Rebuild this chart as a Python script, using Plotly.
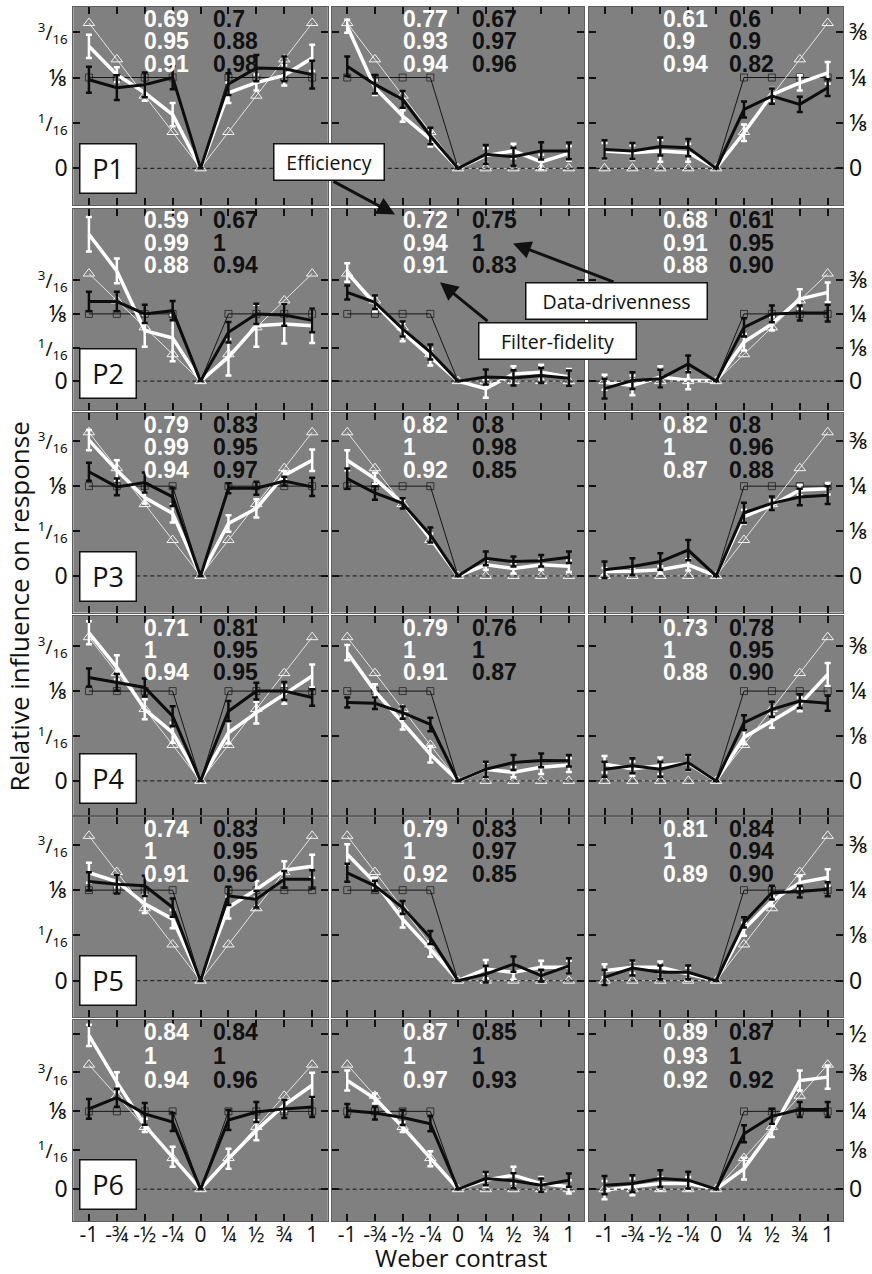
import plotly.graph_objects as go
from plotly.subplots import make_subplots

# ---------------------------------------------------------------- data
contrast = [-1, -0.75, -0.5, -0.25, 0, 0.25, 0.5, 0.75, 1]
contrast_ticktext = ["-1", "-¾", "-½", "-¼", "0", "¼", "½", "¾", "1"]
participants = ["P1", "P2", "P3", "P4", "P5", "P6"]
conditions = ["sym", "neg", "pos"]

# ideal (box) filters, drawn with open squares
ideal_sym = [0.125, 0.125, 0.125, 0.125, 0, 0.125, 0.125, 0.125, 0.125]
ideal_neg = [0.25, 0.25, 0.25, 0.25, 0, 0, 0, 0, 0]
ideal_pos = [0, 0, 0, 0, 0, 0.25, 0.25, 0.25, 0.25]

# graded (contrast-proportional) filters, drawn with open triangles
graded_sym = [0.2, 0.15, 0.1, 0.05, 0, 0.05, 0.1, 0.15, 0.2]
graded_neg = [0.4, 0.3, 0.2, 0.1, 0, 0, 0, 0, 0]
graded_pos = [0, 0, 0, 0, 0, 0.1, 0.2, 0.3, 0.4]

# thick black curves (one row per participant)
black_sym_mean = [
    [0.122, 0.111, 0.115, 0.125, 0, 0.116, 0.138, 0.137, 0.129],
    [0.148, 0.148, 0.125, 0.131, 0, 0.091, 0.125, 0.123, 0.113],
    [0.145, 0.124, 0.130, 0.110, 0, 0.122, 0.122, 0.132, 0.124],
    [0.144, 0.137, 0.130, 0.090, 0, 0.097, 0.125, 0.125, 0.116],
    [0.137, 0.133, 0.131, 0.101, 0, 0.117, 0.1125, 0.140, 0.140],
    [0.129, 0.147, 0.121, 0.108, 0, 0.111, 0.124, 0.129, 0.132],
]
black_sym_err = [
    [0.018, 0.017, 0.017, 0.016, 0, 0.015, 0.018, 0.017, 0.019],
    [0.018, 0.018, 0.017, 0.018, 0, 0.019, 0.019, 0.020, 0.022],
    [0.0125, 0.0116, 0.014, 0.0127, 0, 0.007, 0.009, 0.006, 0.0127],
    [0.0125, 0.0116, 0.0125, 0.014, 0, 0.014, 0.0116, 0.0125, 0.0116],
    [0.0126, 0.0126, 0.014, 0.0126, 0, 0.0126, 0.0116, 0.0116, 0.0126],
    [0.016, 0.0145, 0.0175, 0.0145, 0, 0.016, 0.016, 0.0145, 0.016],
]
black_neg_mean = [
    [0.281, 0.231, 0.190, 0.089, 0, 0.0385, 0.032, 0.048, 0.048],
    [0.330, 0.293, 0.194, 0.108, 0, 0.015, 0.012, 0.021, 0.011],
    [0.271, 0.231, 0.202, 0.114, 0, 0.049, 0.040, 0.042, 0.052],
    [0.218, 0.216, 0.190, 0.157, 0, 0.0325, 0.051, 0.057, 0.056],
    [0.298, 0.262, 0.202, 0.119, 0, 0.018, 0.046, 0.014, 0.041],
    [0.253, 0.245, 0.230, 0.210, 0, 0.034, 0.027, 0.013, 0.029],
]
black_neg_err = [
    [0.027, 0.025, 0.023, 0.023, 0, 0.026, 0.025, 0.024, 0.023],
    [0.026, 0.025, 0.028, 0.028, 0, 0.028, 0.028, 0.028, 0.028],
    [0.028, 0.019, 0.014, 0.021, 0, 0.019, 0.014, 0.016, 0.016],
    [0.014, 0.016, 0.017, 0.019, 0, 0.021, 0.021, 0.019, 0.016],
    [0.025, 0.014, 0.018, 0.018, 0, 0.023, 0.021, 0.016, 0.021],
    [0.021, 0.021, 0.024, 0.024, 0, 0.021, 0.024, 0.021, 0.021],
]
black_pos_mean = [
    [0.052, 0.048, 0.060, 0.057, 0, 0.162, 0.199, 0.176, 0.222],
    [-0.028, 0.002, 0.009, 0.064, 0, 0.200, 0.250, 0.253, 0.253],
    [0.017, 0.026, 0.040, 0.072, 0, 0.176, 0.202, 0.220, 0.225],
    [0.0325, 0.042, 0.0325, 0.051, 0, 0.162, 0.199, 0.222, 0.216],
    [0.009, 0.035, 0.023, 0.023, 0, 0.161, 0.243, 0.246, 0.2525],
    [0.013, 0.018, 0.034, 0.029, 0, 0.178, 0.234, 0.256, 0.256],
]
black_pos_err = [
    [0.025, 0.022, 0.025, 0.024, 0, 0.022, 0.021, 0.021, 0.023],
    [0.037, 0.031, 0.033, 0.031, 0, 0.034, 0.031, 0.028, 0.031],
    [0.023, 0.023, 0.023, 0.028, 0, 0.028, 0.019, 0.023, 0.025],
    [0.021, 0.021, 0.021, 0.021, 0, 0.021, 0.021, 0.019, 0.021],
    [0.021, 0.021, 0.019, 0.019, 0, 0.014, 0.019, 0.016, 0.019],
    [0.029, 0.027, 0.027, 0.027, 0, 0.027, 0.024, 0.024, 0.024],
]

# thick white curves (one row per participant)
white_sym_mean = [
    [0.168, 0.129, 0.104, 0.074, 0, 0.104, 0.118, 0.128, 0.152],
    [0.273, 0.205, 0.094, 0.080, 0, 0.0445, 0.103, 0.106, 0.103],
    [0.189, 0.147, 0.109, 0.087, 0, 0.073, 0.094, 0.140, 0.161],
    [0.206, 0.158, 0.0996, 0.067, 0, 0.067, 0.095, 0.120, 0.146],
    [0.149, 0.137, 0.106, 0.085, 0, 0.101, 0.126, 0.1525, 0.158],
    [0.247, 0.172, 0.1026, 0.052, 0, 0.049, 0.0946, 0.135, 0.167],
]
white_sym_err = [
    [0.016, 0.010, 0.011, 0.016, 0, 0.014, 0.011, 0.014, 0.018],
    [0.032, 0.023, 0.030, 0.043, 0, 0.034, 0.039, 0.036, 0.032],
    [0.014, 0.014, 0.008, 0.0127, 0, 0.0116, 0.0127, 0.006, 0.015],
    [0.016, 0.017, 0.014, 0.014, 0, 0.015, 0.015, 0.0125, 0.016],
    [0.0138, 0.008, 0.0125, 0.0125, 0, 0.015, 0.0115, 0.0125, 0.016],
    [0.017, 0.016, 0.0107, 0.016, 0, 0.016, 0.016, 0.009, 0.02],
]
white_neg_mean = [
    [0.391, 0.222, 0.144, 0.080, 0, 0.035, 0.048, 0.0176, 0.041],
    [0.404, 0.287, 0.182, 0.089, 0, -0.028, 0.027, 0.033, 0.015],
    [0.322, 0.271, 0.202, 0.104, 0, 0.031, 0.021, 0.031, 0.027],
    [0.357, 0.250, 0.162, 0.074, 0, 0.0325, 0.024, 0.038, 0.044],
    [0.349, 0.271, 0.170, 0.087, 0, 0.032, 0.023, 0.037, 0.037],
    [0.349, 0.291, 0.200, 0.098, 0, 0.029, 0.045, 0.018, 0.0075],
]
white_neg_err = [
    [0.018, 0.020, 0.016, 0.020, 0, 0.02, 0.02, 0.02, 0.02],
    [0.034, 0.028, 0.034, 0.031, 0, 0.034, 0.028, 0.028, 0.03],
    [0.028, 0.016, 0.01, 0.014, 0, 0.014, 0.014, 0.014, 0.016],
    [0.021, 0.019, 0.019, 0.023, 0, 0.019, 0.014, 0.019, 0.019],
    [0.0275, 0.014, 0.023, 0.021, 0, 0.025, 0.021, 0.018, 0.018],
    [0.032, 0.016, 0.016, 0.024, 0, 0.021, 0.027, 0.021, 0.021],
]
white_pos_mean = [
    [0.048, 0.043, 0.048, 0.043, 0, 0.098, 0.203, 0.235, 0.263],
    [-0.004, -0.016, 0.015, 0.003, 0, 0.145, 0.213, 0.305, 0.330],
    [0.012, 0.013, 0.017, 0.031, 0, 0.165, 0.197, 0.239, 0.243],
    [0.046, 0.034, 0.042, 0.049, 0, 0.121, 0.167, 0.213, 0.296],
    [0.0275, 0.037, 0.037, 0.018, 0, 0.142, 0.220, 0.271, 0.285],
    [-0.003, 0.0075, 0.018, 0.018, 0, 0.066, 0.189, 0.349, 0.360],
]
white_pos_err = [
    [0.022, 0.02, 0.03, 0.025, 0, 0.023, 0.018, 0.021, 0.03],
    [0.028, 0.037, 0.04, 0.033, 0, 0.031, 0.025, 0.037, 0.037],
    [0.01, 0.01, 0.01, 0.016, 0, 0.019, 0.014, 0.014, 0.016],
    [0.023, 0.02, 0.023, 0.02, 0, 0.019, 0.019, 0.019, 0.032],
    [0.018, 0.016, 0.016, 0.018, 0, 0.018, 0.014, 0.018, 0.023],
    [0.029, 0.027, 0.021, 0.021, 0, 0.035, 0.021, 0.032, 0.037],
]

# efficiency / data-drivenness / filter-fidelity per panel
white_stats_sym = [["0.69", "0.95", "0.91"], ["0.59", "0.99", "0.88"], ["0.79", "0.99", "0.94"],
                   ["0.71", "1", "0.94"], ["0.74", "1", "0.91"], ["0.84", "1", "0.94"]]
black_stats_sym = [["0.7", "0.88", "0.98"], ["0.67", "1", "0.94"], ["0.83", "0.95", "0.97"],
                   ["0.81", "0.95", "0.95"], ["0.83", "0.95", "0.96"], ["0.84", "1", "0.96"]]
white_stats_neg = [["0.77", "0.93", "0.94"], ["0.72", "0.94", "0.91"], ["0.82", "1", "0.92"],
                   ["0.79", "1", "0.91"], ["0.79", "1", "0.92"], ["0.87", "1", "0.97"]]
black_stats_neg = [["0.67", "0.97", "0.96"], ["0.75", "1", "0.83"], ["0.8", "0.98", "0.85"],
                   ["0.76", "1", "0.87"], ["0.83", "0.97", "0.85"], ["0.85", "1", "0.93"]]
white_stats_pos = [["0.61", "0.9", "0.94"], ["0.68", "0.91", "0.88"], ["0.82", "1", "0.87"],
                   ["0.73", "1", "0.88"], ["0.81", "1", "0.89"], ["0.89", "0.93", "0.92"]]
black_stats_pos = [["0.6", "0.9", "0.82"], ["0.61", "0.95", "0.90"], ["0.8", "0.96", "0.88"],
                   ["0.78", "0.95", "0.90"], ["0.84", "0.94", "0.90"], ["0.87", "1", "0.92"]]

ideal = {"sym": ideal_sym, "neg": ideal_neg, "pos": ideal_pos}
graded = {"sym": graded_sym, "neg": graded_neg, "pos": graded_pos}
black_mean = {"sym": black_sym_mean, "neg": black_neg_mean, "pos": black_pos_mean}
black_err = {"sym": black_sym_err, "neg": black_neg_err, "pos": black_pos_err}
white_mean = {"sym": white_sym_mean, "neg": white_neg_mean, "pos": white_pos_mean}
white_err = {"sym": white_sym_err, "neg": white_neg_err, "pos": white_pos_err}
white_stats = {"sym": white_stats_sym, "neg": white_stats_neg, "pos": white_stats_pos}
black_stats = {"sym": black_stats_sym, "neg": black_stats_neg, "pos": black_stats_pos}

# ---------------------------------------------------------------- layout geometry (pixels)
W, H = 872, 1274
col_px = [(73.3, 327.8), (331.7, 584.4), (588.9, 843.3)]
row_px = [(4, 202.5), (206, 408), (411, 611), (614, 814), (816, 1016.5), (1019, 1221)]
# y-limits of the left column; the one-sided columns use twice this span
ylim_sym = [(-0.0505, 0.2221), (-0.0538, 0.321), (-0.051, 0.2268),
            (-0.0476, 0.2301), (-0.0503, 0.2259), (-0.0513, 0.2724)]
XLIM = (-1.14, 1.14)

SANS = "Open Sans, Noto Sans, DejaVu Sans"
FRAC = "Noto Sans, DejaVu Sans"
NUM = "Liberation Sans, Arial"
SMALL_FRAC = "<span style='font-size:19px'><sup>{}</sup>/<sub>{}</sub></span>"


def px(x):
    return x / W


def py(y):
    return 1 - y / H


fig = make_subplots(rows=6, cols=3)

annotations = []
shapes = []

for r in range(6):
    for c, cond in enumerate(conditions):
        n = r * 3 + c + 1
        xa = "x" if n == 1 else f"x{n}"
        ya = "y" if n == 1 else f"y{n}"
        scale = 1 if cond == "sym" else 2
        y0, y1 = ylim_sym[r]

        ideal_vals = ideal[cond]
        fig.add_trace(go.Scatter(
            x=contrast, y=ideal_vals, mode="lines+markers",
            line=dict(color="#151515", width=1),
            marker=dict(symbol="square-open", size=[7 if v else 0 for v in ideal_vals],
                        color="#151515", line=dict(width=1)),
            hoverinfo="skip"), row=r + 1, col=c + 1)
        fig.add_trace(go.Scatter(
            x=contrast, y=graded[cond], mode="lines+markers",
            line=dict(color="#e4e4e4", width=1),
            marker=dict(symbol="triangle-up-open", size=10, color="#f2f2f2",
                        line=dict(width=1)),
            hoverinfo="skip"), row=r + 1, col=c + 1)
        fig.add_trace(go.Scatter(
            x=contrast, y=white_mean[cond][r], mode="lines",
            line=dict(color="#ffffff", width=3.5),
            error_y=dict(type="data", array=white_err[cond][r], visible=True,
                         color="#ffffff", thickness=2.5, width=3),
            hoverinfo="skip"), row=r + 1, col=c + 1)
        fig.add_trace(go.Scatter(
            x=contrast, y=black_mean[cond][r], mode="lines",
            line=dict(color="#0d0d0d", width=3),
            error_y=dict(type="data", array=black_err[cond][r], visible=True,
                         color="#0d0d0d", thickness=2.5, width=3),
            hoverinfo="skip"), row=r + 1, col=c + 1)

        # zero reference
        shapes.append(dict(type="line", xref=f"{xa} domain", yref=ya,
                           x0=0, x1=1, y0=0, y1=0, layer="above",
                           line=dict(color="#111111", width=1, dash="4px,3px")))

        # axes
        left, right = col_px[c]
        top, bottom = row_px[r]
        fig.update_xaxes(row=r + 1, col=c + 1,
                         domain=[px(left), px(right)], range=list(XLIM),
                         tickvals=contrast, ticktext=contrast_ticktext,
                         showticklabels=(r == 5), tickangle=0, ticklabelstandoff=-5,
                         tickfont=dict(family=SANS, size=21, color="#111"),
                         ticks="inside", ticklen=7, tickwidth=1.5, tickcolor="#111",
                         showline=True, linecolor="#5e5e5e", linewidth=1, mirror="ticks",
                         showgrid=False, zeroline=False, fixedrange=True)

        if cond == "sym":
            tv = [0, 0.0625, 0.125, 0.1875, 0.25]
            tt = ["0", SMALL_FRAC.format(1, 16), "⅛", SMALL_FRAC.format(3, 16), ""]
        else:
            tv = [0, 0.125, 0.25, 0.375, 0.5]
            tt = ["0", "⅛", "¼", "⅜", "½"]
        keep = [i for i, v in enumerate(tv) if y0 * scale < v < y1 * scale]
        if r == 1:
            keep = [i for i in keep if i < 4]
        fig.update_yaxes(row=r + 1, col=c + 1,
                         domain=[py(bottom), py(top)], range=[y0 * scale, y1 * scale],
                         tickvals=[tv[i] for i in keep], ticktext=[tt[i] for i in keep],
                         showticklabels=(c != 1),
                         side="right" if c == 2 else "left",
                         tickfont=dict(family=FRAC, size=23, color="#111"),
                         ticks="inside", ticklen=7, tickwidth=1.5, tickcolor="#111",
                         showline=True, linecolor="#5e5e5e", linewidth=1, mirror="ticks",
                         showgrid=False, zeroline=False, fixedrange=True)

        # index values printed in the panel
        offs = [12.7, 36, 61] if r == 5 else [12, 34.5, 57]
        wx = left + (72 if c == 2 else 69)
        bx = left + 138
        for k in range(3):
            annotations.append(dict(
                xref="paper", yref="paper", x=px(wx), y=py(top + offs[k]),
                xanchor="left", yanchor="middle", showarrow=False,
                text=f"<b>{white_stats[cond][r][k]}</b>",
                font=dict(family=NUM, size=23, color="#ffffff")))
            annotations.append(dict(
                xref="paper", yref="paper", x=px(bx), y=py(top + offs[k]),
                xanchor="left", yanchor="middle", showarrow=False,
                text=f"<b>{black_stats[cond][r][k]}</b>",
                font=dict(family=NUM, size=23, color="#111111")))

    # participant label box
    annotations.append(dict(
        xref="paper", yref="paper", x=px(79), y=py(row_px[r][1] - 11),
        xanchor="left", yanchor="bottom", showarrow=False,
        text=participants[r], width=55, height=48,
        bgcolor="#ffffff", bordercolor="#111111", borderwidth=1.5, borderpad=0,
        font=dict(family=SANS, size=27, color="#111111")))

# call-out boxes
for label, (x0b, x1b, y0b, y1b) in [("Efficiency", (273, 385, 140, 178)),
                                     ("Data-drivenness", (525, 708, 280, 318)),
                                     ("Filter-fidelity", (478, 637, 320, 358))]:
    annotations.append(dict(
        xref="paper", yref="paper", x=px((x0b + x1b) / 2), y=py((y0b + y1b) / 2),
        xanchor="center", yanchor="middle", showarrow=False,
        text=label, width=x1b - x0b - 3, height=y1b - y0b - 3,
        bgcolor="#ffffff", bordercolor="#111111", borderwidth=1.5, borderpad=0,
        font=dict(family=SANS, size=19.5, color="#111111")))

# call-out arrows (head position, tail offset in pixels)
for (hx, hy), (tx, ty) in [((395, 212), (332, 178)),
                           ((513, 241), (615, 280)),
                           ((440, 280), (489, 320))]:
    annotations.append(dict(
        xref="paper", yref="paper", x=px(hx), y=py(hy),
        ax=tx - hx, ay=ty - hy, text="", showarrow=True,
        arrowhead=2, arrowsize=1.2, arrowwidth=3, arrowcolor="#111111",
        standoff=0, startstandoff=0))

# axis titles
annotations.append(dict(
    xref="paper", yref="paper", x=px(19), y=py(605), textangle=-90,
    xanchor="center", yanchor="middle", showarrow=False,
    text="Relative influence on response",
    font=dict(family=SANS, size=26, color="#111111")))
annotations.append(dict(
    xref="paper", yref="paper", x=px(461), y=py(1257),
    xanchor="center", yanchor="middle", showarrow=False,
    text="Weber contrast",
    font=dict(family=SANS, size=24, color="#111111")))

fig.update_layout(
    width=W, height=H, autosize=False,
    margin=dict(l=0, r=0, t=0, b=0),
    paper_bgcolor="#ffffff", plot_bgcolor="#808080",
    showlegend=False,
    annotations=annotations, shapes=shapes,
)

fig.write_html("out.html")
